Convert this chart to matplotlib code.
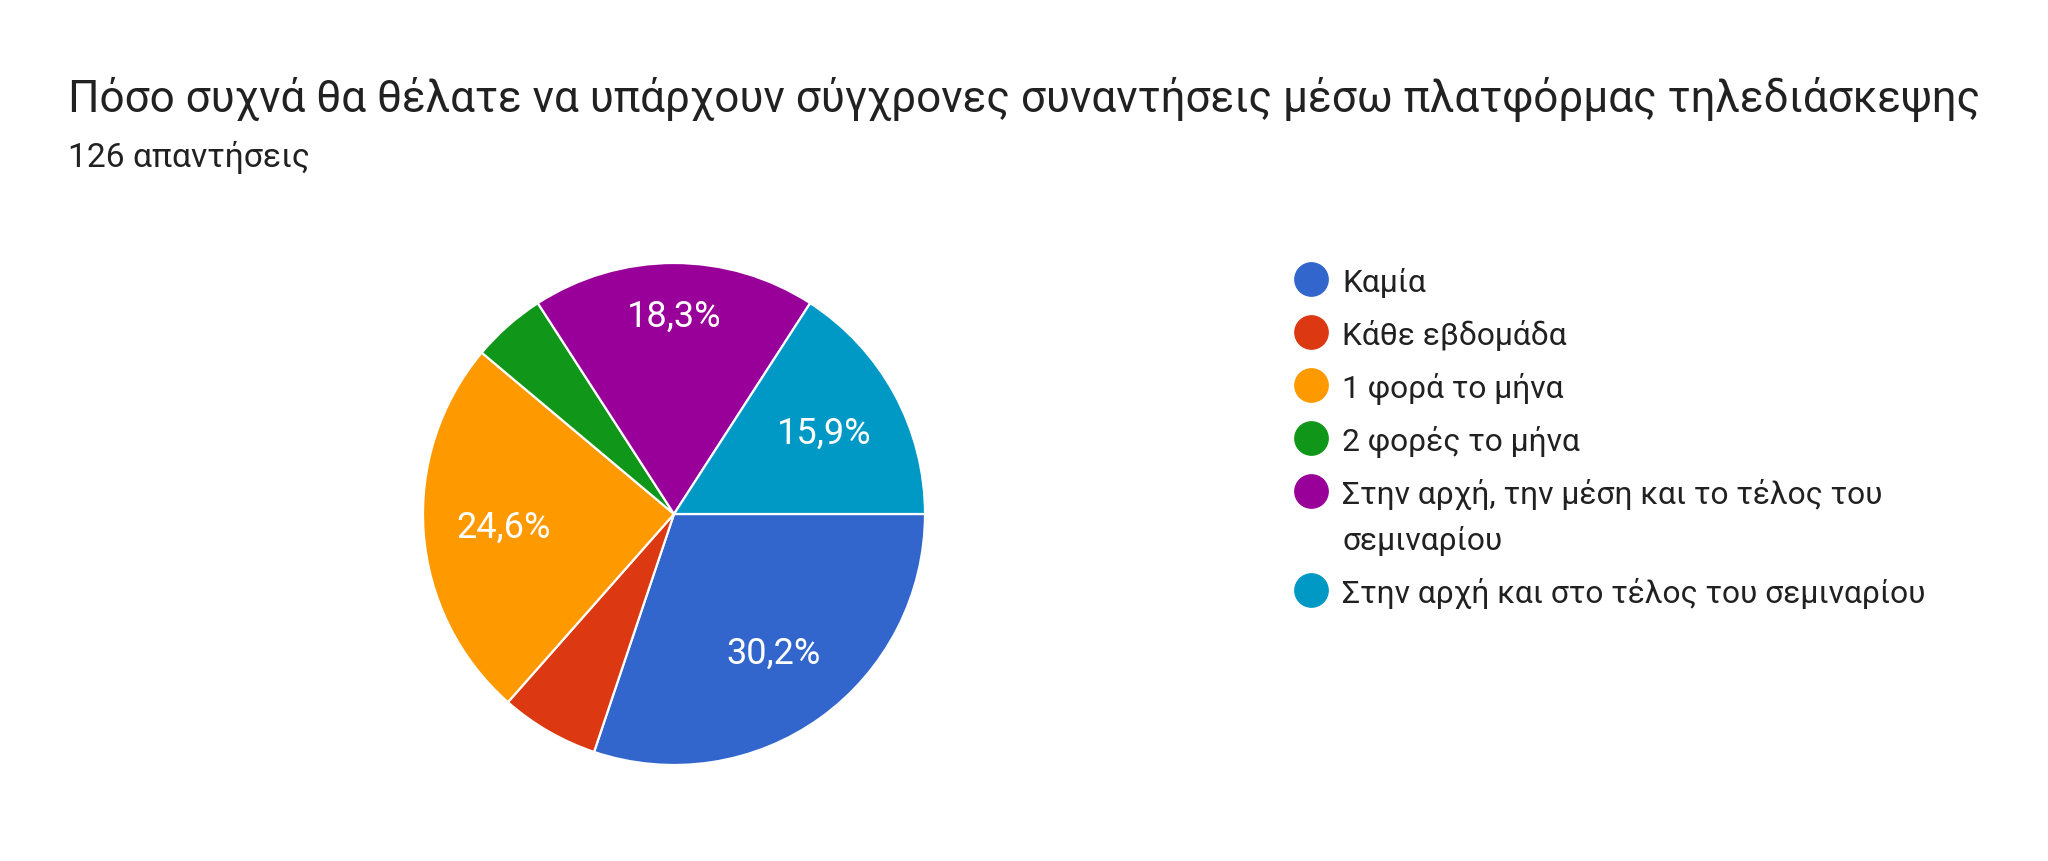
import matplotlib.pyplot as plt
import numpy as np

# Data (126 responses)
TITLE = "Πόσο συχνά θα θέλατε να υπάρχουν σύγχρονες συναντήσεις μέσω πλατφόρμας τηλεδιάσκεψης"
SUBTITLE = "126 απαντήσεις"
labels = ["Καμία", "Κάθε εβδομάδα", "1 φορά το μήνα", "2 φορές το μήνα",
          "Στην αρχή, την μέση και το τέλος του\nσεμιναρίου",
          "Στην αρχή και στο τέλος του σεμιναρίου"]
counts = [38, 8, 31, 6, 23, 20]
colors = ["#3366cc", "#dc3912", "#ff9900", "#109618", "#990099", "#0099c6"]

plt.rcParams['font.family'] = ['Roboto', 'DejaVu Sans']
TEXT_COLOR = "#212121"

W, H = 2048, 862
fig = plt.figure(figsize=(W / 100, H / 100), dpi=100)

# pie placement in pixels
cx, cy, r = 674, 515, 251
ax = fig.add_axes([(cx - r) / W, (H - cy - r) / H, 2 * r / W, 2 * r / H])

total = sum(counts)
wedges, _ = ax.pie(counts, colors=colors, startangle=0, counterclock=False,
                   radius=1, wedgeprops=dict(edgecolor="white", linewidth=1.6))
ax.set_xlim(-1, 1)
ax.set_ylim(-1, 1)
ax.set_aspect('equal')
ax.axis('off')

# percentage labels for larger slices
for w, c in zip(wedges, counts):
    pct = 100 * c / total
    if pct < 10:
        continue
    mid = np.deg2rad((w.theta1 + w.theta2) / 2)
    d = 0.79 if abs(np.sin(mid)) > 0.97 else 0.68
    ax.text(d * np.cos(mid), d * np.sin(mid), f"{pct:.1f}%".replace(".", ","),
            ha='center', va='center', color='white', fontsize=26)

# title
fig.text(68 / W, 1 - 112 / H, TITLE, fontsize=31.7, color=TEXT_COLOR, va='baseline')
fig.text(68 / W, 1 - 167 / H, SUBTITLE, fontsize=24.2, color=TEXT_COLOR, va='baseline')

# legend drawn in pixel space
lax = fig.add_axes([0, 0, 1, 1])
lax.set_xlim(0, W)
lax.set_ylim(H, 0)
lax.axis('off')
row_y = 280
for lab, col in zip(labels, colors):
    lax.plot(1311, row_y, 'o', ms=24, color=col, mec=col)
    lines = lab.split("\n")
    for i, ln in enumerate(lines):
        lax.text(1342, row_y + 12 + i * 46, ln, fontsize=22.9, color=TEXT_COLOR,
                 va='baseline', ha='left')
    row_y += 53 + 46 * (len(lines) - 1)

fig.savefig("out.png", dpi=100, facecolor="white")
